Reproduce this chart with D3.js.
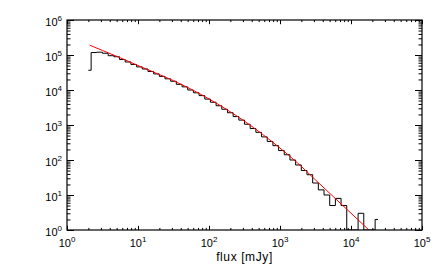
<!DOCTYPE html>
<html>
<head>
<meta charset="utf-8">
<script src="https://cdn.jsdelivr.net/npm/d3@7"></script>
<style>
  body { margin: 0; background: #fff; }
  svg { display: block; font-family: "Liberation Sans", Arial, sans-serif; }
</style>
</head>
<body>
<svg id="chart" width="443" height="273"></svg>
<script>
// histogram of fluxes: bins of 0.08 dex, first bin centre at log10(flux) = 0.30
var binStart = 0.30;
var binWidth = 0.08;
var counts = [36600, 117500, 120200, 112200, 95500, 89100, 74100, 63100, 53700, 45700,
  39800, 33900, 28800, 24500, 20900, 17800, 14500, 12300, 10000, 8320,
  6920, 5500, 4470, 3550, 2820, 2240, 1740, 1380, 1050, 794,
  617, 457, 339, 257, 186, 141, 100, 72, 50, 38,
  22, 14, 10, 5, 8, 5, 1, 1, 3, 1, 1, 2];

// red fit curve
var fitFlux = [2.09, 3.16, 5.62, 10, 17.8, 31.6, 56.2, 100, 178, 316, 562, 1000,
  1778, 3162, 5623, 10000, 17783, 31623];
var fitModel = [190500, 134900, 83200, 50100, 30550, 18400, 10470, 5560, 2754, 1288, 550, 219,
  81.3, 26.9, 9.02, 3.02, 1.01, 0.339];

// tick decades
var xDecades = [1, 10, 100, 1e3, 1e4, 1e5];
var yDecades = [1, 10, 100, 1e3, 1e4, 1e5, 1e6];
var xTitle = "flux [mJy]";

var svg = d3.select("#chart");
var pLeft = 67, pRight = 422, pTop = 20, pBottom = 230;

var x = d3.scaleLog().domain([1, 1e5]).range([pLeft, pRight]);
var y = d3.scaleLog().domain([1, 1e6]).range([pBottom, pTop]);

// minor ticks 2..9 in each decade
function minors(decs) {
  var out = [];
  decs.slice(0, -1).forEach(function (d) {
    for (var m = 2; m <= 9; m++) out.push(d * m);
  });
  return out;
}

svg.append("clipPath").attr("id", "plotclip")
  .append("rect").attr("x", pLeft).attr("y", pTop - 1)
  .attr("width", pRight - pLeft).attr("height", pBottom - pTop + 1);

var plot = svg.append("g").attr("clip-path", "url(#plotclip)");

// histogram (IDL psym=10 style steps)
var hist = counts.map(function (c, i) {
  return { f: Math.pow(10, binStart + i * binWidth), c: c };
});
plot.append("path")
  .datum(hist)
  .attr("fill", "none")
  .attr("stroke", "#000")
  .attr("stroke-width", 1)
  .attr("d", d3.line()
    .x(function (d) { return x(d.f); })
    .y(function (d) { return y(d.c); })
    .curve(d3.curveStep));

// fit
plot.append("path")
  .datum(fitFlux.map(function (f, i) { return { f: f, v: fitModel[i] }; }))
  .attr("fill", "none")
  .attr("stroke", "#ff0000")
  .attr("stroke-width", 1)
  .attr("d", d3.line()
    .x(function (d) { return x(d.f); })
    .y(function (d) { return y(d.v); })
    .curve(d3.curveMonotoneX));

// axes, ticks pointing inward on all four sides
var xMaj = 4.2, xMin = 2.1, yMaj = 7, yMin = 3.5;
function addAxis(axis, tr, values, size) {
  var g = svg.append("g").attr("transform", tr)
    .call(axis.tickValues(values).tickSize(size).tickSizeOuter(0).tickFormat(""));
  g.select(".domain").remove();
  g.selectAll(".tick line").attr("stroke", "#000").attr("stroke-width", 1);
}
addAxis(d3.axisBottom(x), "translate(0," + pBottom + ")", xDecades, -xMaj);
addAxis(d3.axisBottom(x), "translate(0," + pBottom + ")", minors(xDecades), -xMin);
addAxis(d3.axisTop(x), "translate(0," + pTop + ")", xDecades, -xMaj);
addAxis(d3.axisTop(x), "translate(0," + pTop + ")", minors(xDecades), -xMin);
addAxis(d3.axisLeft(y), "translate(" + pLeft + ",0)", yDecades, -yMaj);
addAxis(d3.axisLeft(y), "translate(" + pLeft + ",0)", minors(yDecades), -yMin);
addAxis(d3.axisRight(y), "translate(" + pRight + ",0)", yDecades, -yMaj);
addAxis(d3.axisRight(y), "translate(" + pRight + ",0)", minors(yDecades), -yMin);

svg.append("rect")
  .attr("x", pLeft).attr("y", pTop)
  .attr("width", pRight - pLeft).attr("height", pBottom - pTop)
  .attr("fill", "none").attr("stroke", "#000").attr("stroke-width", 1.2);

function powLabel(sel) {
  sel.append("tspan").text("10");
  sel.append("tspan").attr("dy", -5).attr("font-size", 8)
    .text(function (d) { return Math.round(Math.log10(d)); });
}

svg.selectAll(".xlab").data(xDecades).enter().append("text")
  .attr("class", "xlab")
  .attr("x", function (d) { return x(d); })
  .attr("y", 247)
  .attr("text-anchor", "middle")
  .attr("font-size", 11)
  .attr("fill", "#000")
  .call(powLabel);

svg.selectAll(".ylab").data(yDecades).enter().append("text")
  .attr("class", "ylab")
  .attr("x", 62)
  .attr("y", function (d) { return y(d) + 6; })
  .attr("text-anchor", "end")
  .attr("font-size", 11)
  .attr("fill", "#000")
  .call(powLabel);

svg.append("text")
  .attr("x", (pLeft + pRight) / 2)
  .attr("y", 261)
  .attr("text-anchor", "middle")
  .attr("font-size", 12)
  .attr("letter-spacing", 0.6)
  .attr("fill", "#000")
  .text(xTitle);
</script>
</body>
</html>
